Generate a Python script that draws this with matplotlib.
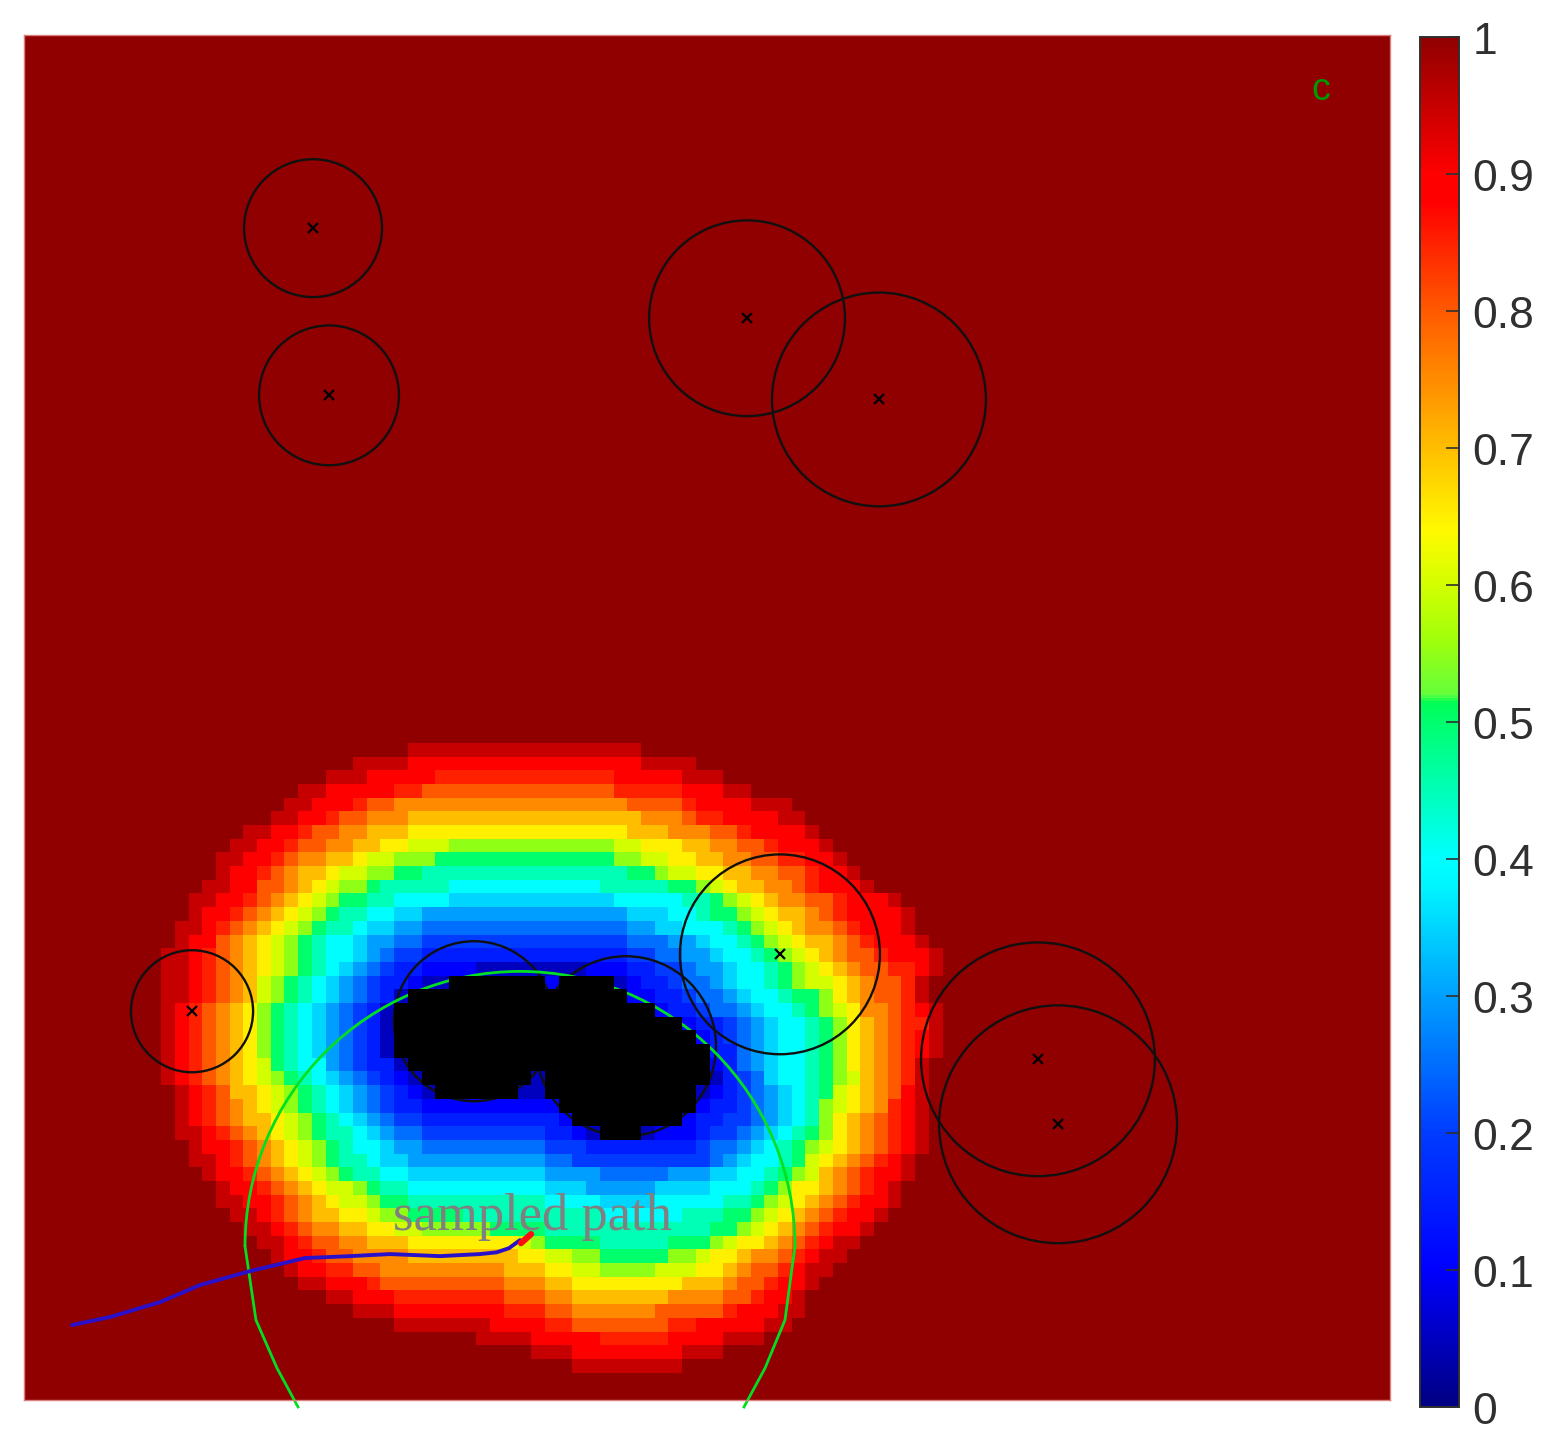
#Potential field map with obstacles, sampled path and colour bar
import numpy as np
import matplotlib
matplotlib.use('Agg')
import matplotlib.pyplot as plt
from matplotlib.colors import LinearSegmentedColormap
from matplotlib.cm import ScalarMappable
from matplotlib.patches import Circle, Arc
from matplotlib.transforms import ScaledTranslation

#field cells, top row first. one char = one cell
#0-9 then a-k are steps of 0.05 (k = 1.0), # = black blocked cell
#left part ends at column 37, right part starts at column 38, the rest is 1.0
first_row = 47
field_left = [
    "jjjjjjjjjj",
    "jjjjiiiiiiiiii",
    "jjjiiiiihhhhhhhh",
    "jjiiiiihhggggggggg",
    "jjiiihggfffffffffff",
    "jjiihggfffeeeeeeeeee",
    "jjiihggffeeedddddddddd",
    "jjiihggffeeddcccbbbbbbb",
    "jjiihgffeedccbbbaaaaaaaa",
    "jiihgfeedccbbaa999999999",
    "jjiiggfedcbba999998888888",
    "jjiihgfedcbaa9988887777777",
    "jiihgfedcba998877666666666",
    "jjihgfedcba9987766555555555",
    "jiigfedcba98876655444444444",
    "jjihgfedcba98876544333333333",
    "jjihgfedcba98765433222211111",
    "jjihgfecba98765433211#######",
    "jjihgfecba98765431##########",
    "jihgfedba98765431###########",
    "jihgfedba98765431###########",
    "jihgfedba98765431###########",
    "jihgfedba98765431###########",
    "jihgfedca988654331##########",
    "jihgfedcba987654321########1",
    "jihgeedcba987654321######11",
    "jihgfedcba98765433222222222",
    "jihgfeedcba9876544333333333",
    "jjihgfedcba9987655444444444",
    "jiihgfedcba988766555555555",
    "jjihgfedcba998776666666666",
    "jiihgfedcba99887777777777",
    "jiihgfedccba998888888888",
    "jjiihgfedccbaa9999999999",
    "jjihgfeeddcbbaaaa999999",
    "jjihgffeeddccbbbbbaaaa",
    "jjihggffeeeddddddddcb",
    "jiihggffffeeeeeeeedd",
    "jiihhggfffffffffeee",
    "jjiiihgggggggggfff",
    "jjiiihhhhhhhhggg",
    "jjjiiiiiiiihhh",
    "jjjjjjjiiii",
    "jjjji",
    "j",
    "",
]
field_right = [
    "jjjjjjj",
    "iiiiiiijjjj",
    "hhhhhiiiiijjj",
    "ggggghhhhhiiijj",
    "ffffffgggghiiiijjj",
    "eeeeeeefffghhiiiijj",
    "ddddddeeefffgghiiiij",
    "bbbbbccdddeeffgghiiij",
    "aaaaabbccddeeffgghhiij",
    "999999aabccddeeffgghiij",
    "888899999aabcdeeffghiiij",
    "777778888899abcdeffgghiiij",
    "666666777889aabcdeefghiiiij",
    "55555566778889abcdeffghiiij",
    "444444555667889abcdeefghiiij",
    "3333334455667889abcdefgghiiij",
    "11122233445667889abcdefgghhij",
    "2####123345567889abccdefgghj",
    "######223345567889aabdefgghj",
    "########23345567889abcdffghij",
    "##########2334567889abdefghhj",
    "###########234567889abdefghij",
    "############33567889abdefghij",
    "############23567889abdefghj",
    "############13457889abcefghj",
    "###########123456789acdefgij",
    "2##########233456789bcdefhij",
    "32########2334456789bdefghij",
    "3321###122234456789abdefghij",
    "444333333334556789abcdefghij",
    "554444444444567889acdefghij",
    "66665555566677889abcefghiij",
    "77766666777788 89abddefghij".replace(" ", ""),
    "888877778888899abcdefghiij",
    "9999888888999aabcdefghiij",
    "999999999999aabcdefghiij",
    "aaaa99999aaabcddefghijj",
    "ccbbaaaaabbcddeffghijj",
    "ddccbbbbcccddefgghijj",
    "eeddddddddeeefgghiij",
    "ffeeeeeeeffffgghiij",
    "ggffffffggggghiiijj",
    "hhggggggghhiiiiijj",
    "iiiihhhhhiiiijjj",
    "jjiiiiiiiijjj",
    "kkjjjjjjjj",
]
level_chars = "0123456789abcdefghijk"

#obstacles in grid units: centre x, centre y, radius
obs_x = [21.16, 22.33, 52.93, 62.59, 12.30, 32.94, 44.07, 55.34, 74.23, 75.70]
obs_y = [85.85, 73.60, 79.25, 73.30, 28.48, 27.75, 25.92, 32.65, 24.96, 20.20]
obs_r = [5.05, 5.12, 7.17, 7.83, 4.47, 5.86, 6.59, 7.32, 8.56, 8.71]

#green arc: upper half is a circle, the two legs below it run off the axes
arc_cx, arc_cy, arc_r = 36.31, 11.27, 20.13
leg_left_x = [16.18, 16.98, 18.52, 20.06]
leg_left_y = [11.27, 5.86, 2.34, -0.51]
leg_right_x = [56.44, 55.71, 54.25, 52.71]
leg_right_y = [11.27, 5.86, 2.34, -0.51]

#sampled path and its red tip
path_x = [3.51, 6.30, 9.96, 12.88, 16.54, 20.57, 23.87, 26.79, 30.45, 33.38, 34.60, 35.50, 36.31]
path_y = [5.49, 6.08, 7.17, 8.42, 9.44, 10.40, 10.54, 10.69, 10.54, 10.69, 10.82, 11.12, 11.71]
tip_x = [36.38, 37.12]
tip_y = [11.49, 12.15]

#colour bar
cbar_ticks = [0, 0.1, 0.2, 0.3, 0.4, 0.5, 0.6, 0.7, 0.8, 0.9, 1]
cbar_labels = ['0', '0.1', '0.2', '0.3', '0.4', '0.5', '0.6', '0.7', '0.8', '0.9', '1']
cmap_pos = [0, 0.1, 0.2, 0.3, 0.38, 0.4, 0.5, 0.515, 0.52, 0.56, 0.6, 0.64, 0.7, 0.8, 0.88, 0.9, 1]
cmap_rgb = [(0, 0, 130), (0, 0, 255), (0, 60, 255), (0, 160, 255), (0, 245, 255), (0, 255, 255),
            (0, 255, 110), (0, 255, 85), (100, 255, 60), (160, 255, 10), (210, 255, 0),
            (255, 250, 0), (255, 190, 0), (255, 90, 0), (255, 0, 0), (255, 0, 0), (145, 0, 0)]

W, H = 1558, 1443
cmap = LinearSegmentedColormap.from_list(
    'field', [(p, (r/255, g/255, b/255)) for p, (r, g, b) in zip(cmap_pos, cmap_rgb)], N=512)

#build the grids
values = np.ones((100, 100))
blocked = np.zeros((100, 100))
for i in range(len(field_left)):
    row = first_row - i
    for j, ch in enumerate(reversed(field_left[i])):
        if ch == '#':
            blocked[row, 37-j] = 1
        else:
            values[row, 37-j] = level_chars.index(ch)/20
    for j, ch in enumerate(field_right[i]):
        if ch == '#':
            blocked[row, 38+j] = 1
        else:
            values[row, 38+j] = level_chars.index(ch)/20

fig = plt.figure(figsize=(W/100, H/100), dpi=100)
ax = fig.add_axes([24/W, 1-1400/H, 1366/W, 1365/H])
ax.imshow(values, cmap=cmap, vmin=0, vmax=1, origin='lower', extent=(0, 100.3, 0, 100.3),
          interpolation='nearest', aspect='auto', zorder=1)

for x, y, r in zip(obs_x, obs_y, obs_r):
    ax.add_patch(Circle((x, y), r, fill=False, ec='#101010', lw=1.7, zorder=2))
ax.plot(obs_x, obs_y, 'x', color='black', ms=7.5, mew=1.6, zorder=2)

ax.add_patch(Arc((arc_cx, arc_cy), 2*arc_r, 2*arc_r, theta1=0, theta2=180, color='#00e020', lw=2, zorder=2))
ax.plot(leg_left_x, leg_left_y, color='#00e020', lw=2, clip_on=False, zorder=2)
ax.plot(leg_right_x, leg_right_y, color='#00e020', lw=2, clip_on=False, zorder=2)

#black blocked cells sit on top of the circles and the arc
ax.imshow(np.ma.masked_where(blocked == 0, blocked), cmap='gray_r', vmin=0, vmax=1, origin='lower',
          extent=(0, 100.3, 0, 100.3), interpolation='nearest', aspect='auto', zorder=3)

ax.plot(path_x, path_y, color='#2a10c8', lw=2.8, solid_capstyle='round', zorder=4)
ax.plot(tip_x, tip_y, color='#ff1010', lw=4.5, solid_capstyle='round', zorder=5)
ax.text(27.01, 12.44, 'sampled path', family='Liberation Serif', fontsize=37.9, color='#808080',
        ha='left', va='baseline', zorder=6)
ax.text(94.95, 96.0, 'c', family='Liberation Sans', fontsize=27, color='#009a00',
        ha='center', va='center', zorder=6)

ax.set_xlim(0, 100)
ax.set_ylim(0, 100)
ax.set_xticks([])
ax.set_yticks([])
for s in ax.spines.values():
    s.set_color('#d98080')
    s.set_linewidth(1)

cax = fig.add_axes([1420/W, 1-1407/H, 39/W, 1370/H])
cb = fig.colorbar(ScalarMappable(cmap=cmap), cax=cax)
cb.set_ticks(cbar_ticks)
cb.set_ticklabels(cbar_labels)
cb.outline.set_edgecolor('#303030')
cb.outline.set_linewidth(1.4)
cax.tick_params(axis='y', direction='in', length=9.4, width=1.2, color='#303030', pad=9.5,
                labelsize=32, labelcolor='#303030')
#labels sit a little under their ticks in the picture
shift = ScaledTranslation(0, -1/100, fig.dpi_scale_trans)
for lab in cax.get_yticklabels():
    lab.set_family('Liberation Sans')
    lab.set_transform(lab.get_transform() + shift)

fig.savefig('out.png', dpi=100)
